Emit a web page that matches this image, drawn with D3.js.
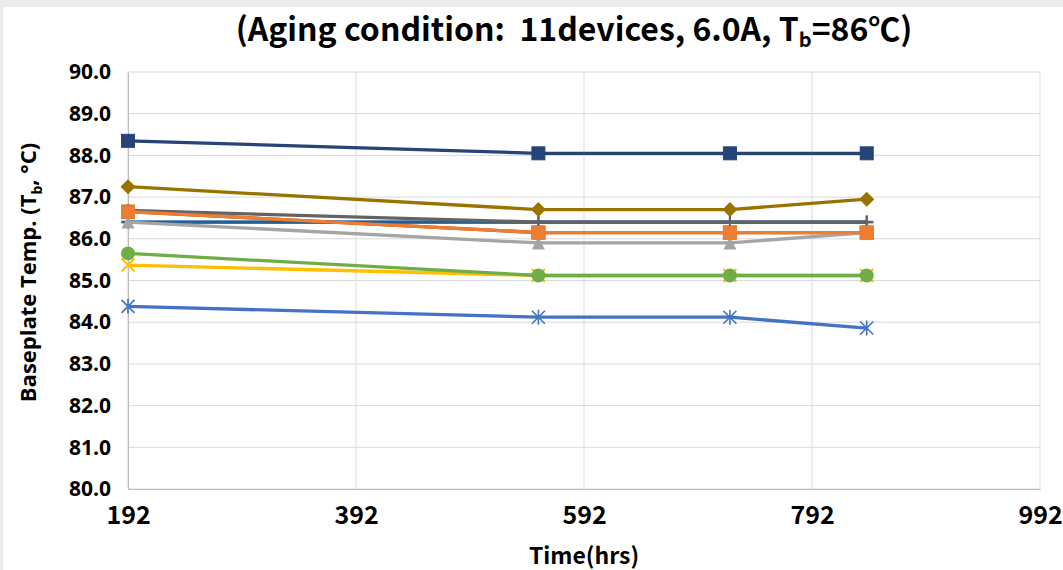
<!DOCTYPE html>
<html>
<head>
<meta charset="utf-8">
<script src="https://cdn.jsdelivr.net/npm/d3@7"></script>
<style>
  body { margin: 0; background: #fff; }
  svg { display: block; }
</style>
</head>
<body>
<svg id="chart"></svg>
<script>
const times = [192, 552, 720, 840];
const xTicks = [192, 392, 592, 792, 992];
const yTicks = [80, 81, 82, 83, 84, 85, 86, 87, 88, 89, 90];

// one array per device (draw order = z order)
const dev5 = [86.40, 86.40, 86.40, 86.40];
const dev8 = [86.65, 86.15, 86.15, 86.15];
const dev11 = [86.40, 86.40, 86.40, 86.40];
const dev3 = [86.40, 85.90, 85.90, 86.15];
const dev9 = [86.68, 86.40, 86.40, 86.40];
const dev2 = [86.65, 86.15, 86.15, 86.15];
const dev10 = [87.25, 86.70, 86.70, 86.95];
const dev7 = [88.35, 88.05, 88.05, 88.05];
const dev4 = [85.37, 85.12, 85.12, 85.12];
const dev6 = [85.65, 85.12, 85.12, 85.12];
const dev1 = [84.38, 84.12, 84.12, 83.86];

const series = [
  { values: dev5, color: "#5b9bd5", marker: "dash" },
  { values: dev8, color: "#9e480e", marker: "square" },
  { values: dev11, color: "#255e91", marker: "plus" },
  { values: dev3, color: "#a5a5a5", marker: "triangle" },
  { values: dev9, color: "#636363", marker: "plus" },
  { values: dev2, color: "#ed7d31", marker: "square" },
  { values: dev10, color: "#997300", marker: "diamond" },
  { values: dev7, color: "#264478", marker: "square" },
  { values: dev4, color: "#ffc000", marker: "x" },
  { values: dev6, color: "#70ad47", marker: "circle" },
  { values: dev1, color: "#4472c4", marker: "asterisk" }
];

const W = 1063, H = 570;
const margin = { top: 72, right: 23, bottom: 81, left: 128 };
const svg = d3.select("#chart").attr("width", W).attr("height", H);

svg.append("rect").attr("x", 0).attr("y", 0).attr("width", W).attr("height", 7).attr("fill", "#ececec");
svg.append("rect").attr("x", 0).attr("y", 0).attr("width", 3).attr("height", H).attr("fill", "#ececec");

const x = d3.scaleLinear().domain([192, 992]).range([margin.left, W - margin.right]);
const y = d3.scaleLinear().domain([80, 90]).range([H - margin.bottom, margin.top]);

// gridlines
svg.append("g").selectAll("line.h").data(yTicks).enter().append("line")
  .attr("x1", x(192)).attr("x2", x(992))
  .attr("y1", d => y(d)).attr("y2", d => y(d))
  .attr("stroke", "#d9d9d9").attr("stroke-width", 1);
svg.append("g").selectAll("line.v").data(xTicks).enter().append("line")
  .attr("y1", y(80)).attr("y2", y(90))
  .attr("x1", d => x(d)).attr("x2", d => x(d))
  .attr("stroke", "#d9d9d9").attr("stroke-width", 1);

// axes
const yAxis = svg.append("g").attr("transform", `translate(${margin.left},0)`)
  .call(d3.axisLeft(y).tickValues(yTicks).tickFormat(d3.format(".1f")).tickSize(0).tickPadding(17));
const xAxis = svg.append("g").attr("transform", `translate(0,${y(80)})`)
  .call(d3.axisBottom(x).tickValues(xTicks).tickSize(0).tickPadding(17));
[xAxis, yAxis].forEach(a => a.select(".domain").attr("stroke", "#bfbfbf").attr("stroke-width", 1.2));
yAxis.selectAll("text").attr("font-family", "'Open Sans', sans-serif")
  .attr("font-weight", "bold").attr("font-size", 21).attr("fill", "#000");
xAxis.selectAll("text").attr("font-family", "'Noto Sans CJK SC', sans-serif")
  .attr("font-weight", "bold").attr("font-size", 25).attr("fill", "#000");

const line = d3.line().x((d, i) => x(times[i])).y(d => y(d));

function marker(g, type, color) {
  const s = 6.5;
  if (type === "square") {
    g.append("rect").attr("x", -s).attr("y", -s).attr("width", 2 * s).attr("height", 2 * s)
      .attr("fill", color).attr("stroke", color);
  } else if (type === "diamond") {
    g.append("path").attr("d", `M0,${-s - 1}L${s + 1},0L0,${s + 1}L${-s - 1},0Z`).attr("fill", color);
  } else if (type === "triangle") {
    g.append("path").attr("d", `M0,${-s}L${s},${s}L${-s},${s}Z`).attr("fill", color);
  } else if (type === "circle") {
    g.append("circle").attr("r", s + 0.5).attr("fill", color);
  } else if (type === "x") {
    g.append("path").attr("d", `M${-s},${-s}L${s},${s}M${-s},${s}L${s},${-s}`).attr("stroke", color).attr("stroke-width", 2);
  } else if (type === "asterisk") {
    g.append("path").attr("d", `M${-s},${-s}L${s},${s}M${-s},${s}L${s},${-s}M0,${-s - 1}L0,${s + 1}`)
      .attr("stroke", color).attr("stroke-width", 1.6);
  } else if (type === "plus") {
    g.append("path").attr("d", `M${-s},0L${s},0M0,${-s}L0,${s}`).attr("stroke", color).attr("stroke-width", 2);
  } else if (type === "dash") {
    g.append("path").attr("d", `M${-s},0L${s},0`).attr("stroke", color).attr("stroke-width", 3);
  }
}

series.forEach(sr => {
  const g = svg.append("g");
  g.append("path").datum(sr.values).attr("d", line)
    .attr("fill", "none").attr("stroke", sr.color).attr("stroke-width", 3.3).attr("stroke-linejoin", "round");
  g.selectAll("g.m").data(sr.values).enter().append("g")
    .attr("transform", (d, i) => `translate(${x(times[i])},${y(d)})`)
    .each(function () { marker(d3.select(this), sr.marker, sr.color); });
});

// title
const title = svg.append("text").attr("x", 574).attr("y", 41).attr("text-anchor", "middle")
  .attr("font-family", "'Noto Sans CJK SC', sans-serif").attr("font-weight", "bold").attr("font-size", 32)
  .attr("fill", "#000").style("white-space", "pre");
title.append("tspan").text("(Aging condition:\u00a0 11devices, 6.0A, T");
title.append("tspan").attr("font-size", 20).attr("dy", 6).text("b");
title.append("tspan").attr("dy", -6).text("=86℃)");

// axis titles
svg.append("text").attr("x", x(592)).attr("y", 564).attr("text-anchor", "middle")
  .attr("font-family", "'Noto Sans CJK SC', sans-serif").attr("font-weight", "bold").attr("font-size", 23)
  .text("Time(hrs)");

const yl = svg.append("text").attr("transform", `translate(36,${y(85) - 8}) rotate(-90)`)
  .attr("text-anchor", "middle").attr("font-family", "'Open Sans', sans-serif")
  .attr("font-weight", "bold").attr("font-size", 22);
yl.append("tspan").text("Baseplate Temp. (T");
yl.append("tspan").attr("font-size", 14).attr("dy", 6).text("b");
yl.append("tspan").attr("dy", -6).text(", °C)");
</script>
</body>
</html>
